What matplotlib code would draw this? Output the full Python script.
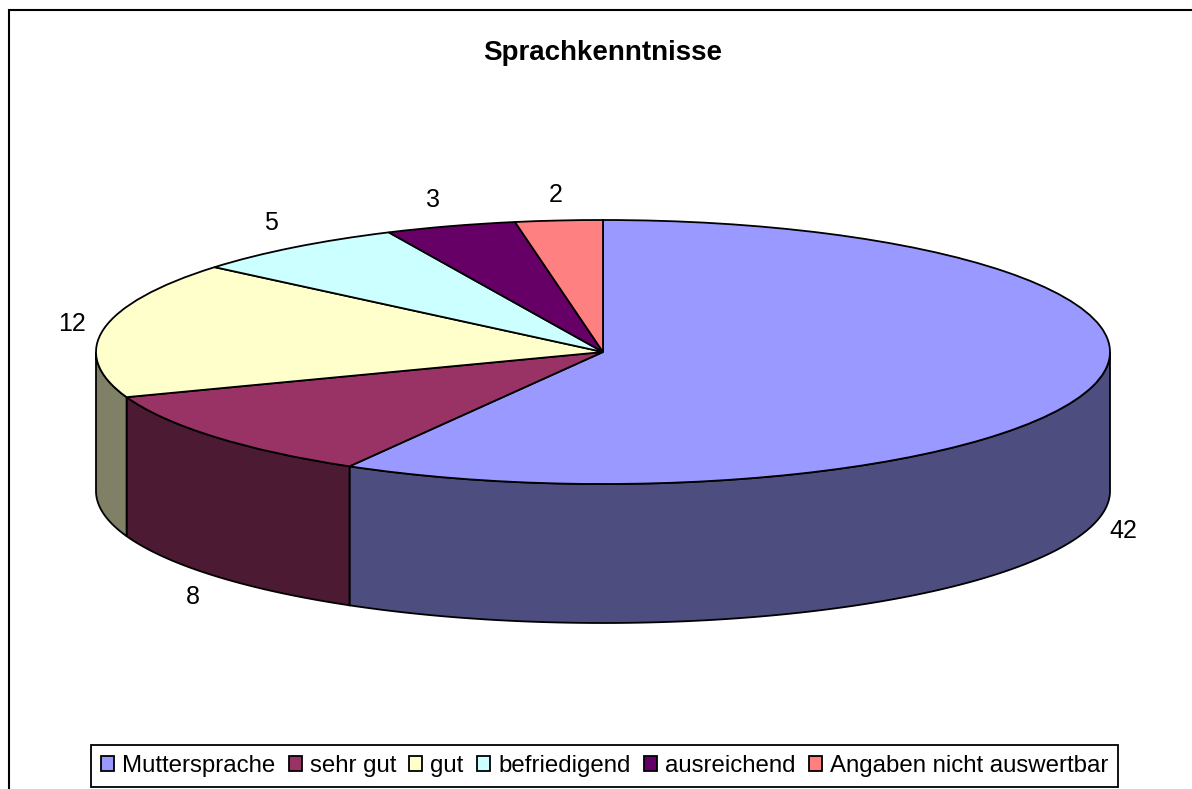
import numpy as np
import matplotlib
matplotlib.use("Agg")
import matplotlib.pyplot as plt
from matplotlib.patches import Polygon, Rectangle

plt.rcParams['font.family'] = ['Liberation Sans', 'DejaVu Sans']

categories = ['Muttersprache', 'sehr gut', 'gut', 'befriedigend', 'ausreichend', 'Angaben nicht auswertbar']
values = [42, 8, 12, 5, 3, 2]
top_colors = ['#9999FF', '#993366', '#FFFFCC', '#CCFFFF', '#660066', '#FF8080']
side_colors = ['#4D4D80', '#4D1A33', '#808066', '#668080', '#330033', '#804040']
title = 'Sprachkenntnisse'

W, H = 1192, 789
CX, CY, RX, RY, DEPTH = 603.0, 352.0, 507.0, 132.0, 139.0
LW = 1.3

fig = plt.figure(figsize=(W / 100, H / 100), dpi=100, facecolor='white')
ax = fig.add_axes([0, 0, 1, 1])

wedges, _ = ax.pie(values, startangle=90, counterclock=False, radius=1,
                   colors=top_colors,
                   wedgeprops=dict(edgecolor='black', linewidth=LW, zorder=3))
ax.set_aspect('auto')
ax.set_xlim(-CX / RX, (W - CX) / RX)
ax.set_ylim((CY - H) / RY, CY / RY)
ax.set_axis_off()

# side walls, derived from the slice angles
d = DEPTH / RY
angle = 90.0
for val, col in zip(values, side_colors):
    a1 = angle
    a0 = angle - val / sum(values) * 360
    angle = a0
    # visible lower half only: -180..0 degrees
    lo, hi = max(a0, -180), min(a1, 0)
    if lo < hi:
        t = np.radians(np.linspace(lo, hi, 200))
    else:
        # slices past -180 show on the 180..360 range
        lo2, hi2 = max(a0 + 360, 180), min(a1 + 360, 360)
        if lo2 >= hi2:
            continue
        t = np.radians(np.linspace(lo2, hi2, 100))
    x, y = np.cos(t), np.sin(t)
    pts = np.column_stack([np.r_[x, x[::-1]], np.r_[y, y[::-1] - d]])
    ax.add_patch(Polygon(pts, closed=True, facecolor=col, edgecolor='black',
                         linewidth=LW, zorder=2))

# outer frame (runs past the right and bottom edges)
fig.add_artist(Rectangle((9.0 / W, -0.02), 1.1, 1 - 10 / H + 0.02, transform=fig.transFigure,
                         fill=False, edgecolor='black', linewidth=1.5))

fig.text(603 / W, 1 - 52.5 / H, title, ha='center', va='center',
         fontsize=20, fontweight='bold', color='black')

# value labels
label_px = [(1123, 531), (193, 597), (72, 324), (271, 223), (433, 200), (556, 195)]
for v, (px, py) in zip(values, label_px):
    fig.text(px / W, 1 - py / H, str(v), ha='center', va='center', fontsize=18, color='black')

leg = fig.legend(wedges, categories, loc='lower left',
                 bbox_to_anchor=(91 / W, 1 - 787 / H), borderaxespad=0,
                 ncol=6, frameon=True, fancybox=False, framealpha=1,
                 edgecolor='black', fontsize=17.3,
                 handlelength=0.54, handleheight=0.54, handletextpad=0.33,
                 columnspacing=0.56, borderpad=0.42)
leg.get_frame().set_linewidth(1.3)
for h in leg.legend_handles:
    h.set_linewidth(1.3)

fig.savefig('out.png', dpi=100)
